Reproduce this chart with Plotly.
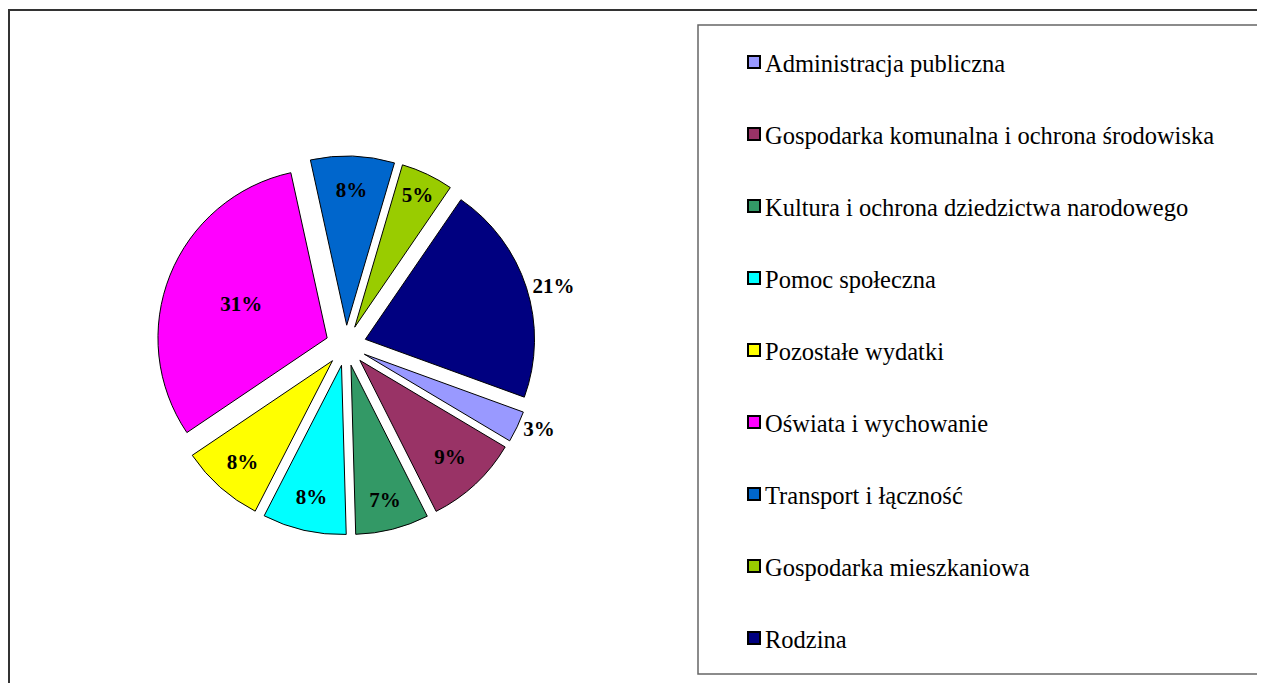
import plotly.graph_objects as go

categories = [
    "Administracja publiczna",
    "Gospodarka komunalna i ochrona środowiska",
    "Kultura i ochrona dziedzictwa narodowego",
    "Pomoc społeczna",
    "Pozostałe wydatki",
    "Oświata i wychowanie",
    "Transport i łączność",
    "Gospodarka mieszkaniowa",
    "Rodzina",
]
shares = [3, 9, 7, 8, 8, 31, 8, 5, 21]
colors = ["#9999FF", "#993366", "#339966", "#00FFFF", "#FFFF00",
          "#FF00FF", "#0066CC", "#99CC00", "#000080"]
text_pos = ["outside", "inside", "inside", "inside", "inside",
            "inside", "inside", "inside", "outside"]

# page has an 8px body margin; positions below are in screen pixels
OFF = 8
W, H = 1249, 675
FONT = "Liberation Serif, Times New Roman, serif"


def px(x):
    return (x - OFF) / W


def py(y):
    return 1 - (y - OFF) / H


fig = go.Figure()
fig.add_trace(go.Pie(
    labels=categories,
    values=shares,
    sort=False,
    direction="clockwise",
    rotation=110,
    pull=[0.12] * len(shares),
    marker=dict(colors=colors, line=dict(color="#000000", width=1)),
    texttemplate="%{percent:.0%}",
    textposition=text_pos,
    insidetextorientation="horizontal",
    textfont=dict(family=FONT, size=21, color="#000000", weight="bold"),
    outsidetextfont=dict(family=FONT, size=21, color="#000000", weight="bold"),
    showlegend=False,
    hoverinfo="label+percent",
    domain=dict(x=[px(140), px(552)], y=[py(535), py(156)]),
))

shapes = []
# outer chart border (right/bottom edges fall outside the window)
shapes.append(dict(type="rect", xref="paper", yref="paper",
                   x0=1 / W, x1=1.02, y0=-0.02, y1=py(10),
                   line=dict(color="#333333", width=2), fillcolor="rgba(0,0,0,0)"))
# legend box
shapes.append(dict(type="rect", xref="paper", yref="paper",
                   x0=px(698), x1=px(1262), y0=py(674), y1=py(25),
                   line=dict(color="#666666", width=1.5), fillcolor="rgba(0,0,0,0)"))

annotations = []
row0, step = 62, 72
for i, (name, col) in enumerate(zip(categories, colors)):
    yc = row0 + i * step
    shapes.append(dict(type="rect", xref="paper", yref="paper",
                       x0=px(748), x1=px(760),
                       y0=py(yc + 6), y1=py(yc - 6),
                       line=dict(color="#000000", width=2), fillcolor=col))
    annotations.append(dict(xref="paper", yref="paper", x=px(763), y=py(yc + 1),
                            text=name, showarrow=False, xanchor="left", yanchor="middle",
                            font=dict(family=FONT, size=24.5, color="#000000")))

fig.update_layout(
    width=W, height=H,
    margin=dict(l=0, r=0, t=0, b=0),
    paper_bgcolor="#FFFFFF",
    plot_bgcolor="#FFFFFF",
    shapes=shapes,
    annotations=annotations,
)

fig.write_html("out.html")
